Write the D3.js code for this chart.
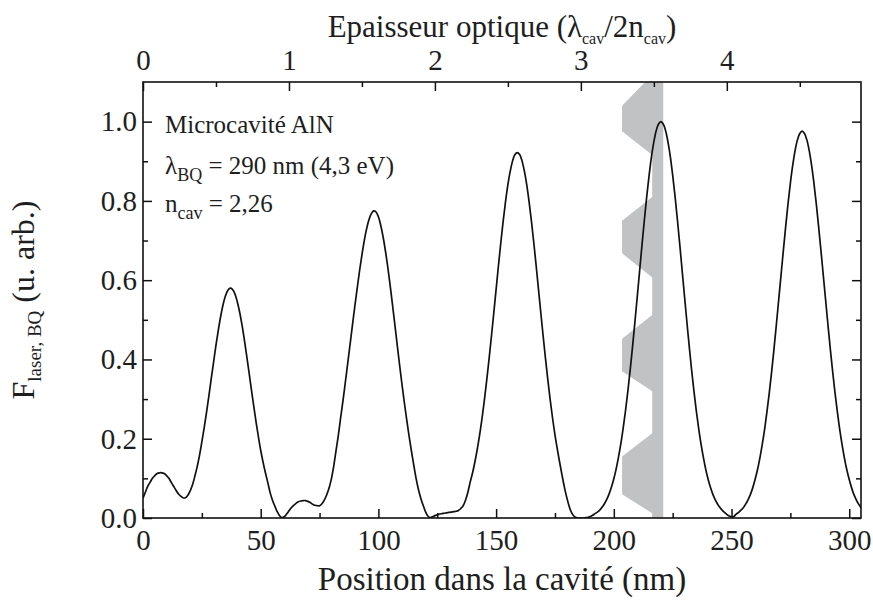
<!DOCTYPE html>
<html><head><meta charset="utf-8">
<script src="https://cdn.jsdelivr.net/npm/d3@7"></script>
<style>
body{margin:0;background:#fff}
svg{display:block}
svg text{font-family:"Liberation Serif","Times New Roman",Tinos,serif;fill:#1e1e1e}
</style>
</head><body>
<svg id="chart" width="873" height="601"></svg>
<script>
// ---------- data ----------
// Field intensity F_laser,BQ sampled every 1 nm from 0 to 305 nm
const sampleStartNm = 0;
const sampleStepNm = 1;
const fieldValues = [
0.050,0.065,0.080,0.090,0.100,0.107,0.112,0.114,0.114,0.112,
0.107,0.100,0.090,0.080,0.070,0.061,0.055,0.051,0.051,0.057,
0.068,0.083,0.105,0.129,0.158,0.192,0.228,0.267,0.309,0.352,
0.394,0.436,0.474,0.509,0.538,0.560,0.574,0.580,0.577,0.566,
0.547,0.521,0.489,0.452,0.411,0.369,0.326,0.284,0.243,0.206,
0.171,0.141,0.114,0.090,0.064,0.045,0.030,0.016,0.006,0.001,
0.003,0.010,0.018,0.026,0.032,0.037,0.041,0.043,0.044,0.044,
0.042,0.039,0.035,0.032,0.031,0.031,0.036,0.045,0.058,0.075,
0.098,0.130,0.170,0.210,0.255,0.298,0.345,0.392,0.440,0.488,
0.535,0.580,0.624,0.664,0.700,0.730,0.753,0.768,0.775,0.772,
0.760,0.738,0.709,0.673,0.632,0.586,0.537,0.487,0.436,0.386,
0.338,0.292,0.249,0.208,0.170,0.134,0.100,0.072,0.050,0.032,
0.016,0.005,0.001,0.003,0.006,0.008,0.010,0.011,0.012,0.013,
0.014,0.015,0.016,0.017,0.019,0.024,0.031,0.045,0.065,0.091,
0.114,0.142,0.174,0.210,0.251,0.297,0.347,0.401,0.458,0.517,
0.577,0.637,0.695,0.749,0.798,0.841,0.875,0.901,0.917,0.922,
0.917,0.901,0.875,0.841,0.798,0.749,0.695,0.637,0.577,0.517,
0.458,0.401,0.347,0.297,0.251,0.210,0.174,0.140,0.108,0.078,
0.052,0.030,0.014,0.005,0.001,0.000,0.000,0.000,0.001,0.002,
0.004,0.007,0.011,0.015,0.020,0.027,0.036,0.047,0.061,0.078,
0.099,0.124,0.154,0.188,0.228,0.272,0.322,0.376,0.435,0.497,
0.561,0.626,0.691,0.753,0.812,0.865,0.912,0.949,0.977,0.994,
1.000,0.994,0.977,0.949,0.912,0.865,0.812,0.753,0.691,0.626,
0.561,0.497,0.435,0.376,0.322,0.272,0.228,0.188,0.154,0.124,
0.099,0.078,0.061,0.047,0.036,0.027,0.020,0.014,0.009,0.005,
0.003,0.004,0.010,0.014,0.020,0.026,0.035,0.046,0.059,0.076,
0.097,0.121,0.150,0.184,0.222,0.266,0.314,0.367,0.424,0.485,
0.548,0.611,0.674,0.735,0.793,0.845,0.890,0.927,0.954,0.970,
0.976,0.970,0.954,0.927,0.890,0.845,0.793,0.735,0.674,0.611,
0.548,0.485,0.424,0.367,0.314,0.266,0.222,0.184,0.150,0.121,
0.097,0.076,0.059,0.046,0.035,0.026
];

// Grey structure outline (position nm, F value)
const structureNm = [221,221,216.3,203.5,203.5,216.3,216.3,203.5,203.5,216.3,216.3,203.5,203.5,216.3,216.3,203.5,203.5,216.3,216.3];
const structureF  = [0,1.2,1.118,1.040,0.976,0.916,0.810,0.750,0.668,0.607,0.512,0.452,0.370,0.320,0.214,0.155,0.060,0.012,0];

const xDomain = [0, 305];
const yDomain = [0, 1.1];
const xMajorTicks = [0,50,100,150,200,250,300];
const xMinorTicks = [25,75,125,175,225,275];
const yMajorTicks = [0,0.2,0.4,0.6,0.8,1.0];
const yMinorTicks = [0.1,0.3,0.5,0.7,0.9];
const topMajorTicks = [0,1,2,3,4];
const topMinorTicks = [0.5,1.5,2.5,3.5,4.5];
const cavityHalfWaveNm = 62.0;   // λcav / 2ncav

// ---------- layout ----------
const W = 873, H = 601;
const m = {left:143, right:12, top:82, bottom:83};
const iw = W - m.left - m.right, ih = H - m.top - m.bottom;
const svg = d3.select("#chart");
const g = svg.append("g").attr("transform",`translate(${m.left},${m.top})`);

const x = d3.scaleLinear().domain(xDomain).range([0, iw]);
const y = d3.scaleLinear().domain(yDomain).range([ih, 0]);
const xTop = d3.scaleLinear().domain([xDomain[0]/cavityHalfWaveNm, xDomain[1]/cavityHalfWaveNm]).range([0, iw]);

g.append("clipPath").attr("id","clip").append("rect").attr("width",iw).attr("height",ih);

// grey structure
const structurePts = structureNm.map((v,i)=>[v, structureF[i]]);
g.append("path")
  .attr("clip-path","url(#clip)")
  .attr("d", d3.line().x(d=>x(d[0])).y(d=>y(d[1]))(structurePts) + "Z")
  .attr("fill","#c1c2c4").attr("stroke","none");

// curve
const pts = fieldValues.map((v,i)=>[sampleStartNm + i*sampleStepNm, v]);
g.append("path")
  .attr("clip-path","url(#clip)")
  .attr("d", d3.line().curve(d3.curveCatmullRom).x(d=>x(d[0])).y(d=>y(d[1]))(pts))
  .attr("fill","none").attr("stroke","#111").attr("stroke-width",1.7);

// axes
const SERIF = "Liberation Serif, Times New Roman, serif";
const MAJ = 9, MIN = 5, FS = 29;
function styleAxis(sel){
  sel.attr("font-family", SERIF);
  sel.selectAll("path.domain").remove();
  sel.selectAll("line").attr("stroke","#111").attr("stroke-width",1.5);
  sel.selectAll("text").attr("font-size",FS).attr("font-family",SERIF).attr("fill","#1e1e1e");
}
const fmt1 = d3.format(".1f");
g.append("g").attr("transform",`translate(0,${ih})`)
  .call(d3.axisBottom(x).tickValues(xMajorTicks).tickSize(-MAJ).tickPadding(11).tickFormat(d3.format("d"))).call(styleAxis);
g.append("g").attr("transform",`translate(0,${ih})`)
  .call(d3.axisBottom(x).tickValues(xMinorTicks).tickSize(-MIN).tickFormat("")).call(styleAxis);
g.append("g").call(d3.axisTop(xTop).tickValues(topMajorTicks).tickSize(-MAJ).tickPadding(12).tickFormat(d3.format("d"))).call(styleAxis);
g.append("g").call(d3.axisTop(xTop).tickValues(topMinorTicks).tickSize(-MIN).tickFormat("")).call(styleAxis);
g.append("g").call(d3.axisLeft(y).tickValues(yMajorTicks).tickSize(-MAJ).tickPadding(6).tickFormat(fmt1)).call(styleAxis);
g.append("g").call(d3.axisLeft(y).tickValues(yMinorTicks).tickSize(-MIN).tickFormat("")).call(styleAxis);
g.append("g").attr("transform",`translate(${iw},0)`)
  .call(d3.axisRight(y).tickValues(yMajorTicks).tickSize(-MAJ).tickFormat("")).call(styleAxis);
g.append("g").attr("transform",`translate(${iw},0)`)
  .call(d3.axisRight(y).tickValues(yMinorTicks).tickSize(-MIN).tickFormat("")).call(styleAxis);

// frame
g.append("rect").attr("width",iw).attr("height",ih).attr("fill","none").attr("stroke","#111").attr("stroke-width",1.6);

// titles
svg.append("text").attr("x", m.left+iw/2).attr("y", 590).attr("text-anchor","middle").attr("font-size",33)
  .attr("font-family",SERIF).text("Position dans la cavité (nm)");

const tt = svg.append("text").attr("x", m.left+iw/2).attr("y", 37).attr("text-anchor","middle").attr("font-size",31).attr("font-family",SERIF);
tt.append("tspan").text("Epaisseur optique (λ");
tt.append("tspan").attr("font-size",16).attr("dy",7).text("cav");
tt.append("tspan").attr("dy",-7).text("/2n");
tt.append("tspan").attr("font-size",16).attr("dy",7).text("cav");
tt.append("tspan").attr("dy",-7).text(")");

const yt = svg.append("text").attr("transform",`translate(34,${m.top+ih/2}) rotate(-90)`).attr("text-anchor","middle").attr("font-size",32).attr("font-family",SERIF);
yt.append("tspan").text("F");
yt.append("tspan").attr("font-size",19).attr("dy",7).text("laser, BQ");
yt.append("tspan").attr("dy",-7).text(" (u. arb.)");

// annotation
const AFS = 25, ASFS = 18;
const ax0 = m.left + 22;
svg.append("text").attr("x",ax0).attr("y",133).attr("font-size",AFS).attr("font-family",SERIF).text("Microcavité AlN");
const a2 = svg.append("text").attr("x",ax0).attr("y",174).attr("font-size",AFS).attr("font-family",SERIF);
a2.append("tspan").text("λ");
a2.append("tspan").attr("font-size",ASFS).attr("dy",7).text("BQ");
a2.append("tspan").attr("dy",-7).text(" = 290 nm (4,3 eV)");
const a3 = svg.append("text").attr("x",ax0).attr("y",212).attr("font-size",AFS).attr("font-family",SERIF);
a3.append("tspan").text("n");
a3.append("tspan").attr("font-size",ASFS).attr("dy",7).text("cav");
a3.append("tspan").attr("dy",-7).text(" = 2,26");
</script>
</body></html>
